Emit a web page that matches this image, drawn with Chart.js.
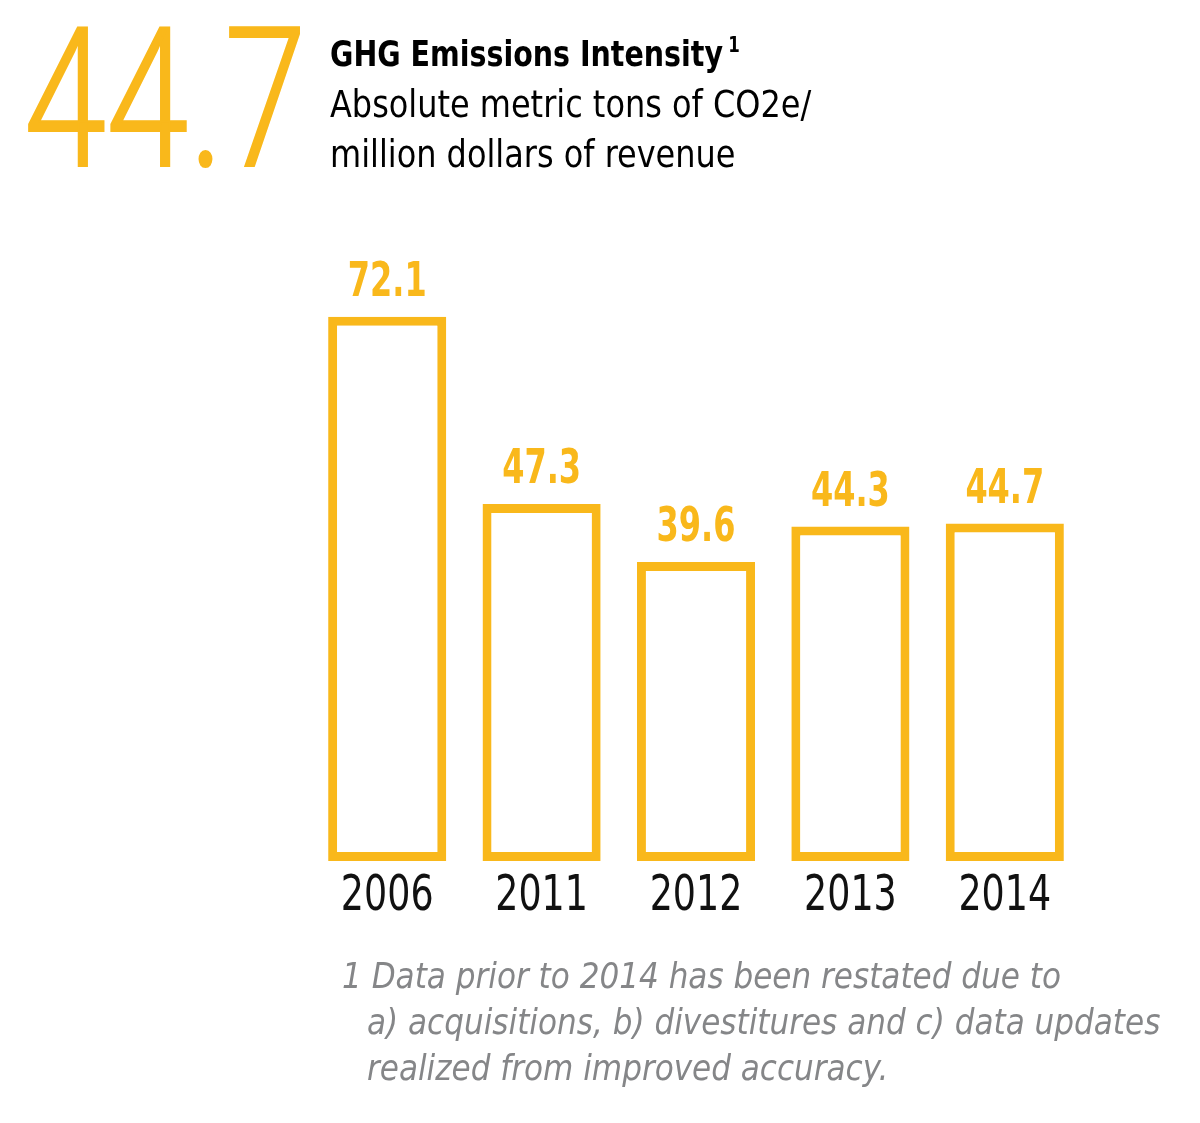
<!DOCTYPE html>
<html>
<head>
<meta charset="utf-8">
<script src="https://cdn.jsdelivr.net/npm/chart.js@4.4.1/dist/chart.umd.min.js"></script>
<style>
  html, body { margin: 0; padding: 0; background: #fff; }
  body { width: 1200px; height: 1123px; position: relative; overflow: hidden; }
  #wrap { position: absolute; left: 0; top: 0; width: 1200px; height: 1123px; }
  .txt { position: absolute; line-height: 1; white-space: nowrap; transform-origin: left top;
         font-family: "Liberation Sans Narrow", "DejaVu Sans Condensed", Roboto, sans-serif; }
  .big { left: 24px; top: 3px; font-family: Roboto, sans-serif; font-weight: 300; font-size: 194px; color: #F9B81B;
         -webkit-text-stroke: 2px #F9B81B; transform: scaleX(0.765); }
  .title { left: 330px; top: 36px; font-size: 36px; font-weight: bold; color: #000; transform: scaleX(0.88); }
  .title sup { font-size: 21px; vertical-align: top; position: relative; top: -1px; margin-left: 6px; }
  .sub { left: 330px; font-size: 37px; color: #000; transform: scaleX(0.96); }
  .note { font-size: 36px; font-style: italic; color: #858688; transform: scaleX(0.96); }
</style>
</head>
<body>
<div id="wrap"><canvas id="chart"></canvas></div>
<div class="txt big">44.7</div>
<div class="txt title">GHG Emissions Intensity<sup>1</sup></div>
<div class="txt sub" style="top:86px">Absolute metric tons of CO2e/</div>
<div class="txt sub" style="top:136px">million dollars of revenue</div>
<div class="txt note" style="left:342px;top:958px">1 Data prior to 2014 has been restated due to</div>
<div class="txt note" style="left:367px;top:1004px">a) acquisitions, b) divestitures and c) data updates</div>
<div class="txt note" style="left:367px;top:1050px">realized from improved accuracy.</div>
<script>
const years = ["2006", "2011", "2012", "2013", "2014"]
const intensity = [72.1, 47.3, 39.6, 44.3, 44.7]

const yellow = "#F9B81B"
const labelFont = '"Liberation Sans Narrow", "DejaVu Sans Condensed", Roboto, sans-serif'

// draw text squeezed horizontally, the fallback font is wider than the original
function narrowText(ctx, text, x, y, squeeze) {
    ctx.save()
    ctx.translate(x, y)
    ctx.scale(squeeze, 1)
    ctx.fillText(text, 0, 0)
    ctx.restore()
}

// value labels above each bar
const valueLabels = {
    id: "valueLabels",
    afterDatasetsDraw(chart) {
        const ctx = chart.ctx
        const meta = chart.getDatasetMeta(0)
        ctx.save()
        ctx.fillStyle = yellow
        ctx.font = "bold 48px " + labelFont
        ctx.textAlign = "center"
        ctx.textBaseline = "alphabetic"
        meta.data.forEach((bar, i) => {
            narrowText(ctx, intensity[i].toFixed(1), bar.x, bar.y - 21, 0.74)
        })
        ctx.restore()
    }
}

// year labels under the x axis, placed by the x scale
const yearLabels = {
    id: "yearLabels",
    afterDraw(chart) {
        const ctx = chart.ctx
        const xScale = chart.scales.x
        ctx.save()
        ctx.fillStyle = "#111"
        ctx.font = "50px " + labelFont
        ctx.textAlign = "center"
        ctx.textBaseline = "alphabetic"
        chart.data.labels.forEach((label, i) => {
            narrowText(ctx, label, xScale.getPixelForTick(i), chart.chartArea.bottom + 49, 0.81)
        })
        ctx.restore()
    }
}

const ctx = document.getElementById("chart").getContext("2d")
new Chart(ctx, {
    type: "bar",
    data: {
        labels: years,
        datasets: [{
            data: intensity,
            backgroundColor: "#ffffff",
            borderColor: yellow,
            borderWidth: 9,
            borderSkipped: false,
            barPercentage: 0.765,
            categoryPercentage: 1,
        }]
    },
    options: {
        responsive: true,
        maintainAspectRatio: false,
        animation: false,
        layout: {
            padding: { left: 310, right: 118, top: 257, bottom: 182 }
        },
        plugins: {
            legend: { display: false },
            tooltip: { enabled: false },
        },
        scales: {
            y: {
                display: false,
                min: 0,
                max: 80,
            },
            x: {
                grid: { display: false, drawTicks: false },
                border: { display: false },
                ticks: { display: false },
                afterFit(axis) { axis.height = 80 },
            },
        },
    },
    plugins: [valueLabels, yearLabels],
})
</script>
</body>
</html>
